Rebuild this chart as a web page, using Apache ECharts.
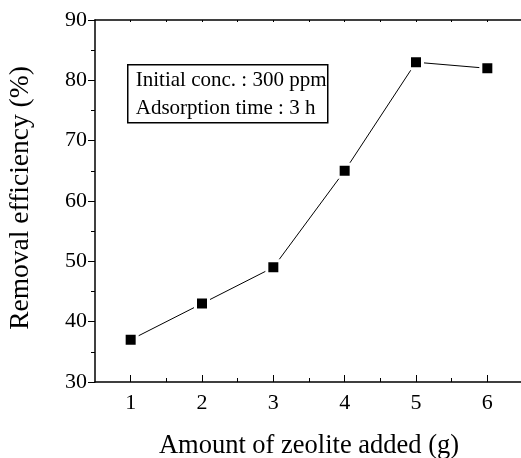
<!DOCTYPE html>
<html>
<head>
<meta charset="utf-8">
<script src="https://cdn.jsdelivr.net/npm/echarts@6/dist/echarts.min.js"></script>
<style>html,body{margin:0;padding:0;background:#fff}#c{width:521px;height:458px}</style>
</head>
<body>
<div id="c"></div>
<script>
var xValues = [1, 2, 3, 4, 5, 6];
var removalEfficiency = [37, 43, 49, 65, 83, 82];
var xTickLabels = [1, 2, 3, 4, 5, 6];
var xMinorTicks = [1.5, 2.5, 3.5, 4.5, 5.5];
var xTopTicks = [1, 1.5, 2, 2.5, 3, 3.5, 4, 4.5, 5, 5.5, 6];
var annotationLines = ['Initial conc. : 300 ppm', 'Adsorption time : 3 h'];
var xTitle = 'Amount of zeolite added (g)';
var yTitle = 'Removal efficiency (%)';

var FONT = '"Liberation Serif", "Times New Roman", serif';
var chart = echarts.init(document.getElementById('c'), null, {renderer: 'canvas'});
var pts = xValues.map(function (x, i) { return [x, removalEfficiency[i]]; });

chart.setOption({
  animation: false,
  backgroundColor: '#fff',
  grid: {left: 95, top: 20, right: -2, bottom: 76, containLabel: false, outerBoundsMode: 'none'},
  xAxis: [
    {
      type: 'value', min: 0.5, max: 6.5, interval: 0.5, position: 'bottom',
      name: xTitle, nameLocation: 'middle', nameGap: 51,
      nameTextStyle: {fontFamily: FONT, fontSize: 26.5, color: '#000'},
      axisLine: {show: true, lineStyle: {color: '#000', width: 1.5}},
      axisTick: {show: true, inside: true, length: 7, customValues: xTickLabels, lineStyle: {color: '#000', width: 1}},
      axisLabel: {show: true, customValues: xTickLabels, margin: 10, fontFamily: FONT, fontSize: 22, color: '#000'},
      splitLine: {show: false}
    },
    {
      type: 'value', min: 0.5, max: 6.5, interval: 0.5, position: 'bottom',
      axisLine: {show: false},
      axisTick: {show: true, inside: true, length: 4, customValues: xMinorTicks, lineStyle: {color: '#000', width: 1}},
      axisLabel: {show: false},
      splitLine: {show: false}
    },
    {
      type: 'value', min: 0.5, max: 6.5, interval: 0.5, position: 'top',
      axisLine: {show: true, lineStyle: {color: '#000', width: 1.5}},
      axisTick: {show: true, inside: true, length: 2, customValues: xTopTicks, lineStyle: {color: '#000', width: 1}},
      axisLabel: {show: false},
      splitLine: {show: false}
    }
  ],
  yAxis: {
    type: 'value', min: 30, max: 90, interval: 10,
    name: yTitle, nameLocation: 'middle', nameGap: 60,
    nameTextStyle: {fontFamily: FONT, fontSize: 27.5, color: '#000', padding: [0, 0, 0, 6]},
    axisLine: {show: true, lineStyle: {color: '#000', width: 1.5}},
    axisTick: {show: true, inside: false, length: 7, lineStyle: {color: '#000', width: 1}},
    minorTick: {show: true, splitNumber: 2, length: 4, lineStyle: {color: '#000', width: 1}},
    axisLabel: {margin: 8, fontFamily: FONT, fontSize: 22, color: '#000'},
    splitLine: {show: false}
  },
  series: [{
    type: 'line', xAxisIndex: 0, data: pts,
    symbol: 'rect', symbolSize: 13, showAllSymbol: true,
    itemStyle: {color: '#000', borderColor: '#fff', borderWidth: 3},
    lineStyle: {color: '#000', width: 1}
  }],
  graphic: [{
    type: 'group', left: 127, top: 64,
    children: [
      {type: 'rect', shape: {x: 0, y: 0, width: 200, height: 58}, style: {fill: '#fff', stroke: '#000', lineWidth: 1.5}},
      {type: 'text', x: 8, y: 16, style: {text: annotationLines[0], font: '21px ' + FONT, fill: '#000', verticalAlign: 'middle'}},
      {type: 'text', x: 8, y: 44, style: {text: annotationLines[1], font: '21px ' + FONT, fill: '#000', verticalAlign: 'middle'}}
    ]
  }]
});
</script>
</body>
</html>
